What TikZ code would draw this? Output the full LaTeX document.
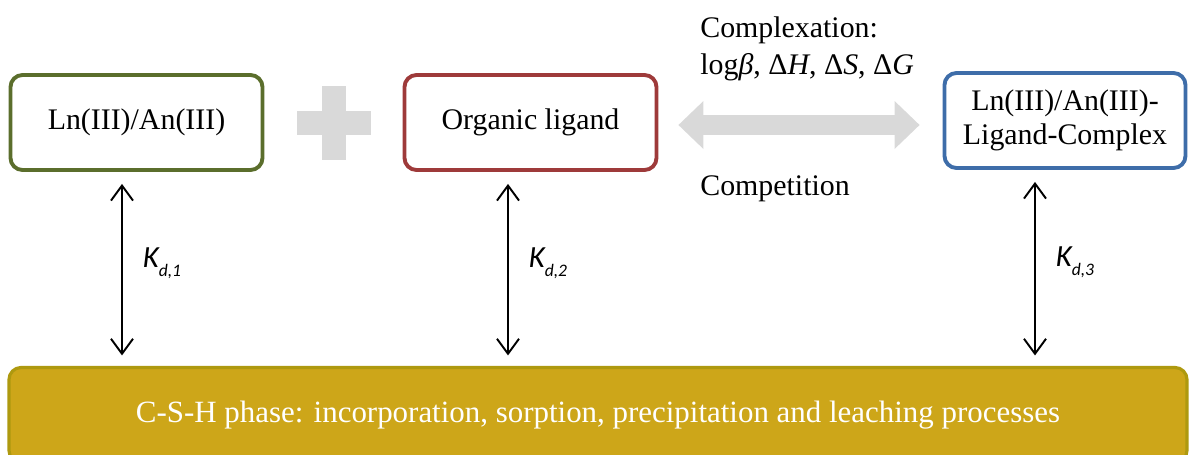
\documentclass[tikz,border=0pt]{standalone}
\usepackage{fontspec}
\setmainfont{Liberation Serif}
\newfontfamily\kfont{Carlito}
\usetikzlibrary{positioning, arrows.meta, calc}
\definecolor{boxGreen}{HTML}{5B6E2C}
\definecolor{boxRed}{HTML}{9E3A3A}
\definecolor{boxBlue}{HTML}{3E6DA9}
\definecolor{cshFill}{HTML}{CDA619}
\definecolor{cshEdge}{HTML}{AE990F}
\definecolor{symGray}{HTML}{D9D9D9}

\begin{document}
\begin{tikzpicture}[
  speciesbox/.style={rectangle, rounded corners=0.24cm, line width=2.2pt, fill=white,
    minimum height=1.9cm, align=center, font=\fontsize{17}{19}\selectfont},
  cshbar/.style={rectangle, rounded corners=0.24cm, fill=cshFill, draw=cshEdge, line width=1.8pt,
    minimum width=23.56cm, minimum height=1.9cm, text=white, font=\fontsize{17.6}{19}\selectfont},
  kdarrow/.style={line width=1.1pt,
    {Straight Barb[length=0.3cm,width=0.44cm]}-{Straight Barb[length=0.3cm,width=0.44cm]}},
  kdlabel/.style={font=\kfont\itshape\fontsize{17.5}{17}\selectfont},
  annot/.style={font=\fontsize{17}{19}\selectfont, anchor=west, inner sep=0pt},
  eqarrow/.style={line width=0.4cm, draw=symGray,
    {Triangle[width=0.96cm,length=0.5cm,line width=0pt]}-{Triangle[width=0.96cm,length=0.5cm,line width=0pt]}}
]
  %% --- cornice: 1189x454 px, 50 px = 1 cm ---
  \useasboundingbox (0,0) rectangle (23.78,9.08);
  \clip (0,0) rectangle (23.78,9.08);

  %% --- specie in soluzione ---
  \node[speciesbox, draw=boxGreen, minimum width=5.04cm] (lnan) at (2.73,6.63) {Ln(III)/An(III)};
  \node[speciesbox, draw=boxRed, minimum width=5.04cm] (ligand) at (10.61,6.63) {Organic ligand};
  \node[speciesbox, draw=boxBlue, minimum width=4.82cm] (complex) at (21.30,6.67)
    {Ln(III)/An(III)-\\Ligand-Complex};

  %% --- fase solida ---
  \node[cshbar] (csh) at (11.96,0.78)
    {C-S-H phase: incorporation, sorption, precipitation and leaching processes};

  %% --- segno "+" fra metallo e legante ---
  \coordinate (plus) at (6.68,6.62);
  \fill[symGray] ($(plus)+(-0.74,-0.235)$) rectangle ($(plus)+(0.74,0.235)$);
  \fill[symGray] ($(plus)+(-0.24,-0.74)$) rectangle ($(plus)+(0.24,0.74)$);

  %% --- equilibrio di complessazione ---
  \draw[eqarrow, shorten <=0.40cm, shorten >=0.46cm]
    ([yshift=-0.05cm]ligand.east) -- ([yshift=-0.05cm]ligand.east -| complex.west);
  \node[annot] (cplxhead) at (14.0,8.48) {Complexation:};
  \node[annot] (cplxpars) at (14.0,7.74) {log\textit{β}, Δ\textit{H}, Δ\textit{S}, Δ\textit{G}};
  \node[annot] (compet) at (14.0,5.30) {Competition};

  %% --- ripartizione solido/liquido ---
  \foreach \spec/\dx/\idx in {lnan/-0.29/1, ligand/-0.45/2, complex/-0.60/3} {
    \draw[kdarrow, shorten <=0.24cm, shorten >=0.21cm]
      ([xshift=\dx cm]\spec.south) -- ([xshift=\dx cm]\spec.south |- csh.north)
      node[kdlabel, pos=0.47, right=0.28cm] {K\raisebox{-0.3em}{\fontsize{10}{10}\selectfont d,\idx}};
  }
\end{tikzpicture}
\end{document}
